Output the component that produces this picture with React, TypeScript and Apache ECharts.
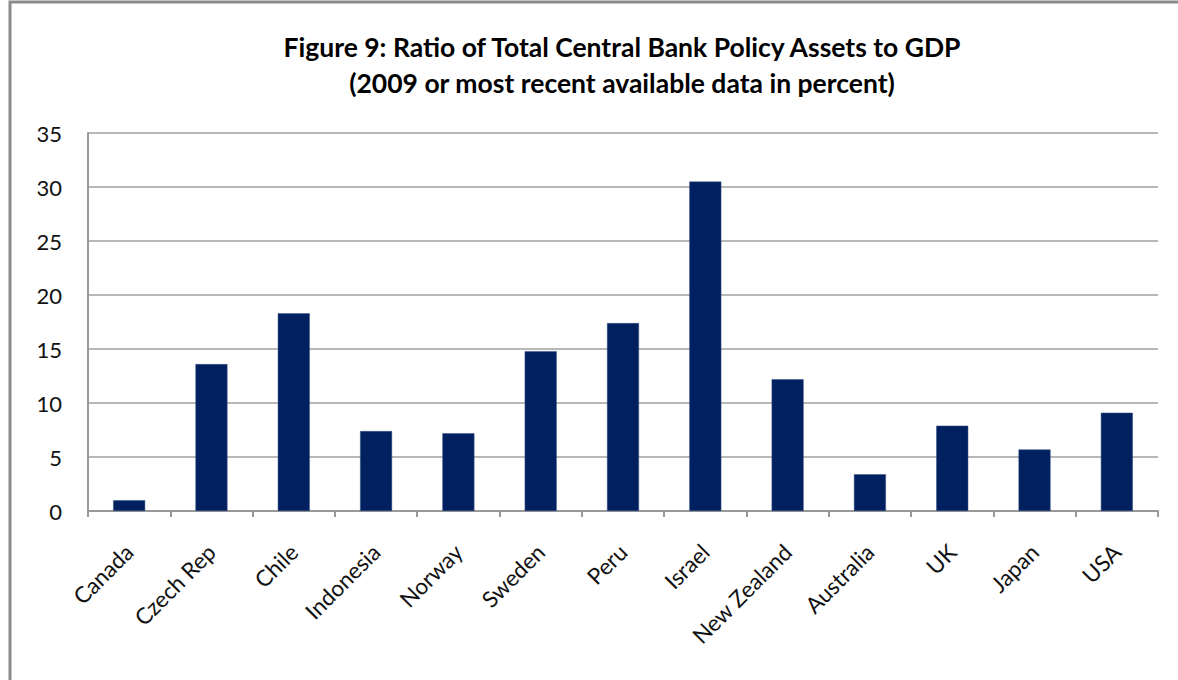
import React, { useEffect, useRef } from "react";
import * as echarts from "echarts";

const categories = ["Canada", "Czech Rep", "Chile", "Indonesia", "Norway", "Sweden", "Peru", "Israel", "New Zealand", "Australia", "UK", "Japan", "USA"];
const values = [1.0, 13.6, 18.3, 7.4, 7.2, 14.8, 17.4, 30.5, 12.2, 3.4, 7.9, 5.7, 9.1];
const yTicks = [0, 5, 10, 15, 20, 25, 30, 35];
const titleLines = ["Figure 9: Ratio of Total Central Bank Policy Assets to GDP", "(2009 or most recent available data in percent)"];

export default function App() {
  const ref = useRef<HTMLDivElement>(null);
  useEffect(() => {
    document.body.style.margin = "0";
    document.body.style.overflow = "hidden";
    const chart = echarts.init(ref.current!, null, { renderer: "svg" });
    chart.setOption({
      animation: false,
      backgroundColor: "#ffffff",
      textStyle: { fontFamily: "Lato" },
      title: {
        text: titleLines.join("\n"),
        left: 617,
        top: 24,
        textAlign: "center",
        textStyle: { fontFamily: "Lato", fontWeight: "bold", fontSize: 26.5, lineHeight: 36, color: "#000" },
      },
      graphic: [
        {
          type: "polyline",
          shape: { points: [[1182, 2], [10, 2], [10, 684]] },
          style: { stroke: "#8a8a8a", lineWidth: 3, fill: "none" },
          silent: true,
        },
      ],
      grid: { left: 88, right: 20, top: 133, bottom: 169, containLabel: false },
      xAxis: {
        type: "category",
        data: categories,
        axisLine: { lineStyle: { color: "#999", width: 2 } },
        axisTick: { show: true, length: 6, inside: false, lineStyle: { color: "#999", width: 2 } },
        axisLabel: { rotate: 45, margin: 37, fontSize: 22.5, color: "#111", fontFamily: "Lato", interval: 0 },
      },
      yAxis: {
        type: "value",
        min: 0,
        max: 35,
        interval: 5,
        axisLine: { show: true, lineStyle: { color: "#999", width: 2 } },
        axisTick: { show: false },
        splitLine: { lineStyle: { color: "#a0a0a0", width: 1.5 } },
        axisLabel: {
          margin: 26,
          fontSize: 22,
          color: "#111",
          fontFamily: "Lato",
          formatter: (v: number) => (yTicks.includes(v) ? String(v) : ""),
        },
      },
      series: [
        {
          type: "bar",
          data: values,
          barWidth: 32,
          itemStyle: { color: "#002060", borderColor: "#3b5586", borderWidth: 0.5 },
        },
      ],
    });
    return () => chart.dispose();
  }, []);
  return <div ref={ref} style={{ width: 1178, height: 680 }} />;
}
